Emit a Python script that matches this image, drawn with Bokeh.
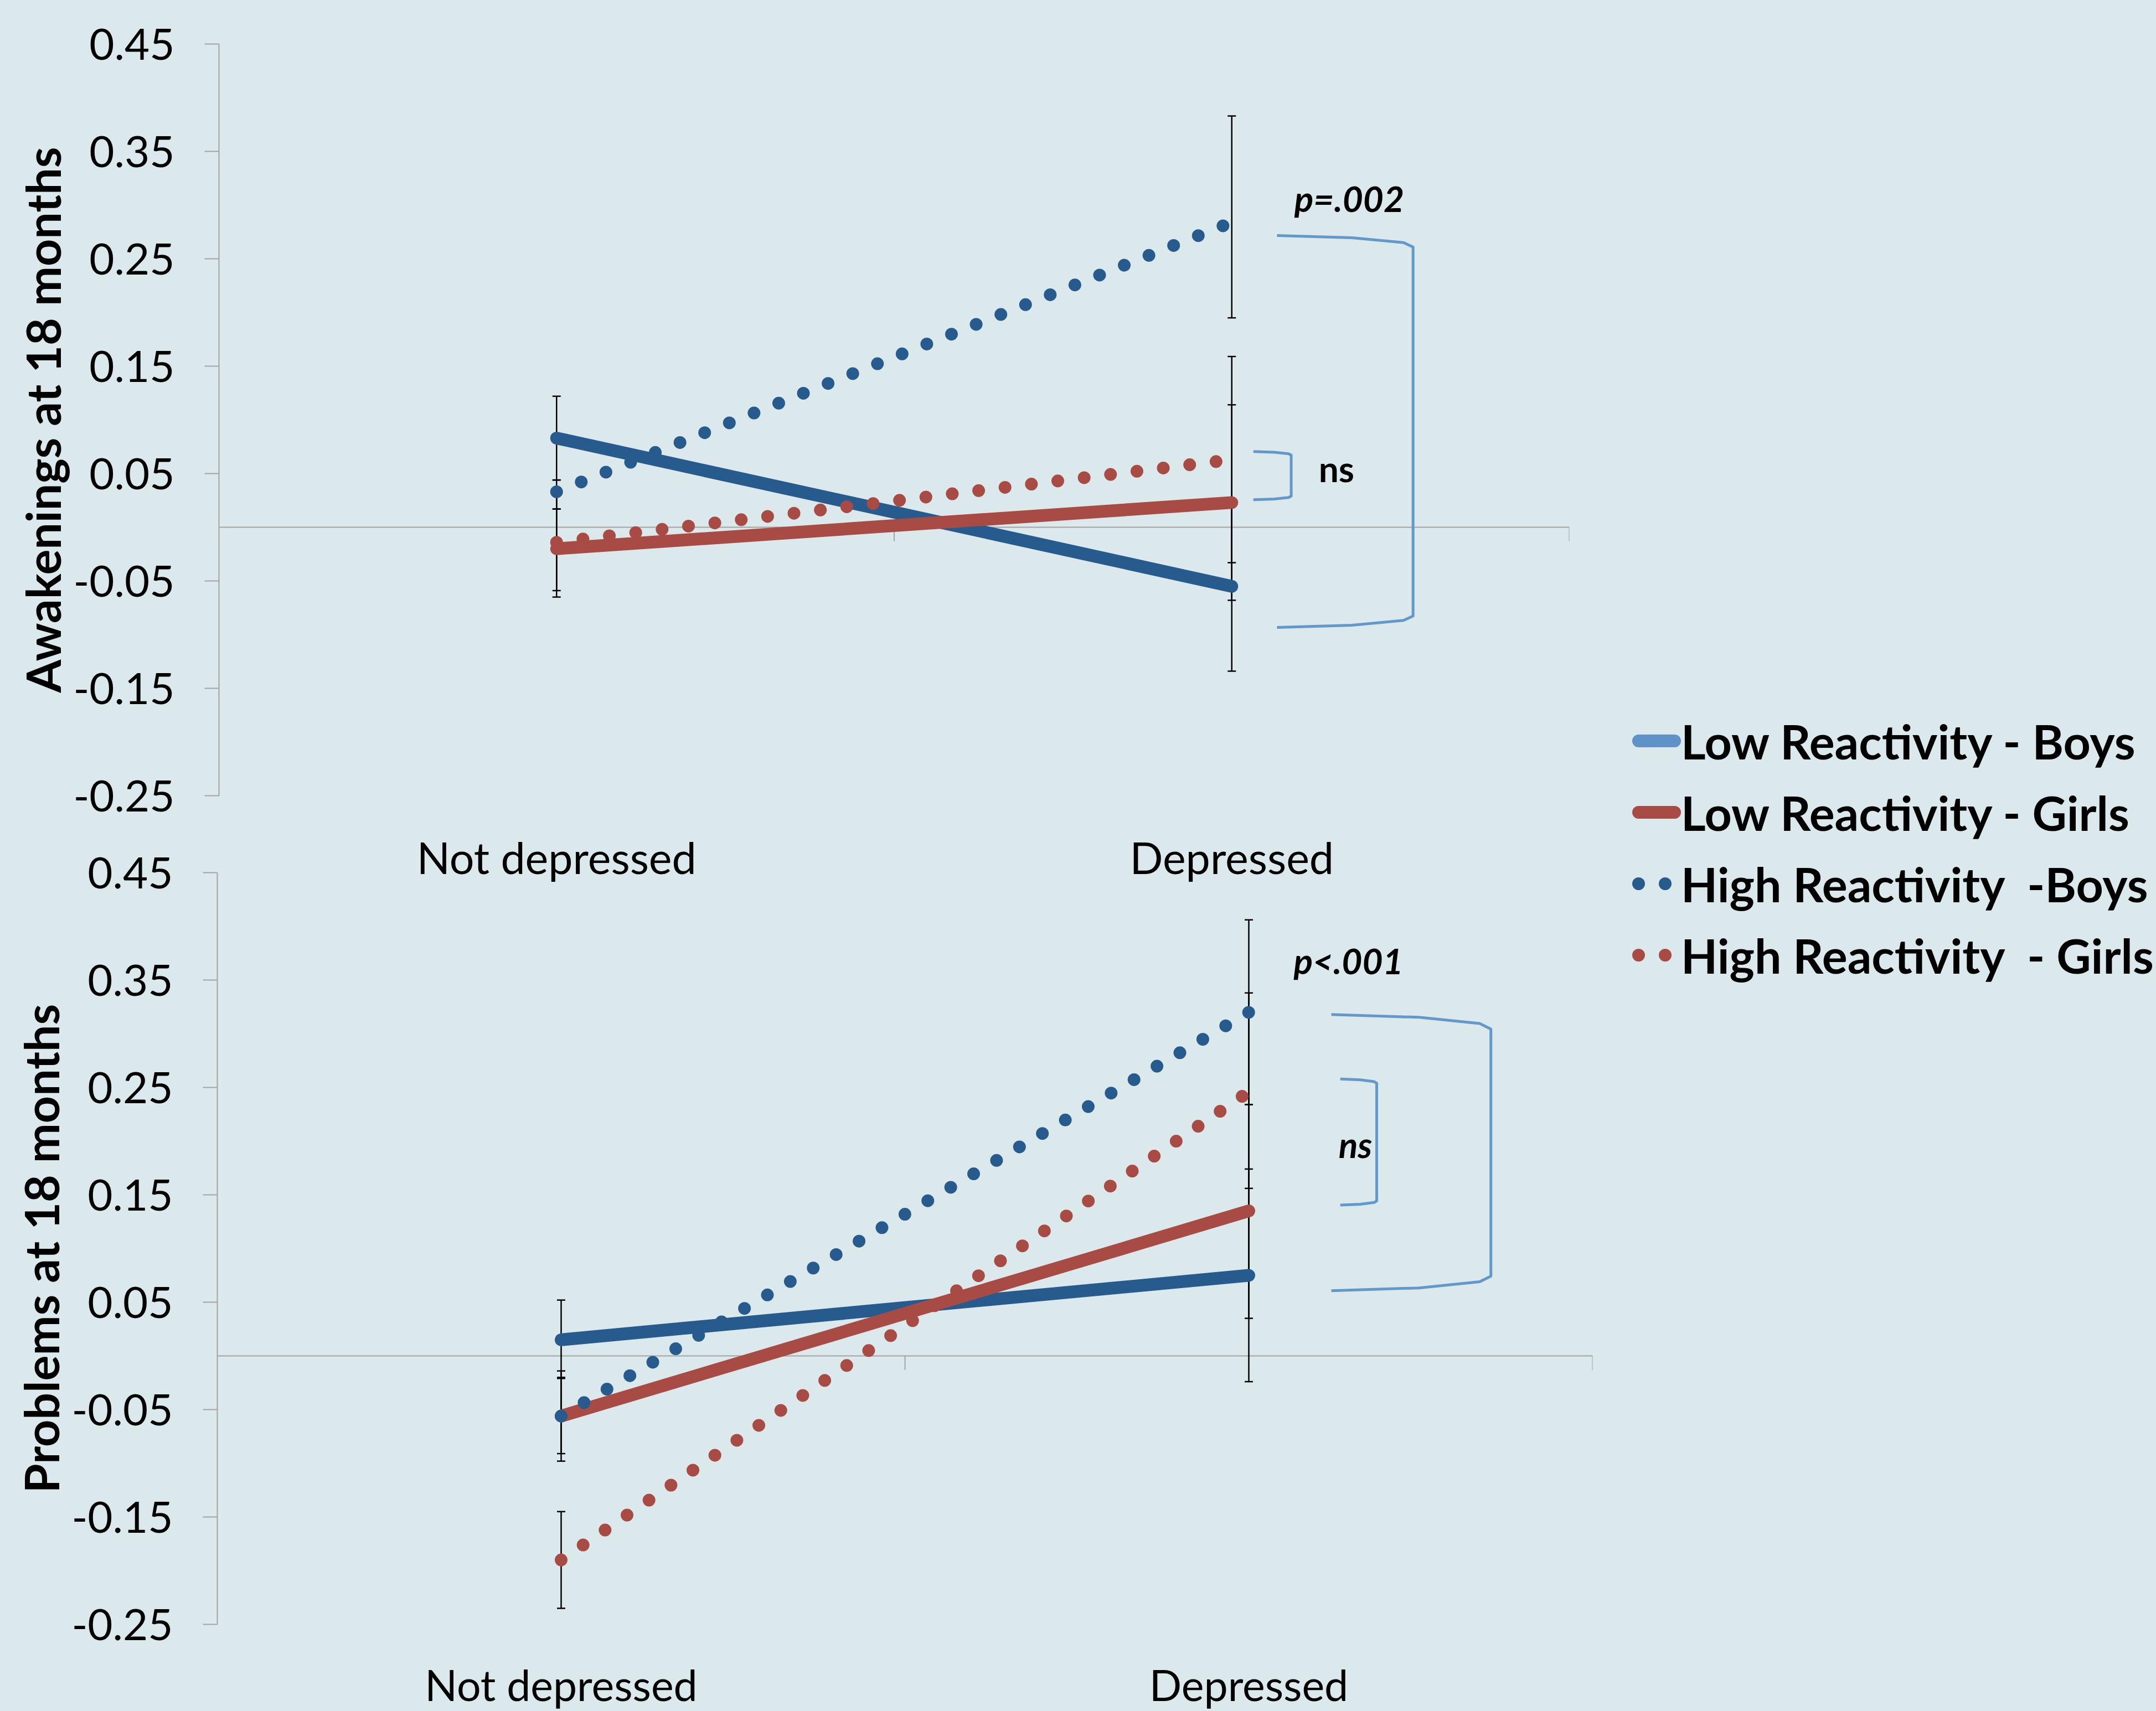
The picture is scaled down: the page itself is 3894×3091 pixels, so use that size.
from bokeh.plotting import figure
from bokeh.models import (Range1d, LinearAxis, FixedTicker, Span, Legend, LegendItem,
                          Whisker, ColumnDataSource, Label, PrintfTickFormatter, TeeHead)
from bokeh.layouts import row, column
from bokeh.embed import file_html
from bokeh.resources import INLINE

# ---------------- data ----------------
categories = ["Not depressed", "Depressed"]
y_ticks = [-0.25, -0.15, -0.05, 0.05, 0.15, 0.25, 0.35, 0.45]
series_names = ["Low Reactivity - Boys", "Low Reactivity - Girls",
                "High Reactivity  -Boys", "High Reactivity  - Girls"]

# Awakenings at 18 months
awake_low_boys = [0.083, -0.055]
awake_low_girls = [-0.020, 0.023]
awake_high_boys = [0.033, 0.284]
awake_high_girls = [-0.014, 0.063]
awake_low_boys_err = ([0.044, -0.134], [0.122, 0.024])
awake_low_girls_err = ([-0.059, -0.068], [0.017, 0.114])
awake_high_boys_err = ([0.017, 0.195], [0.044, 0.383])
awake_high_girls_err = ([-0.065, -0.033], [0.036, 0.159])

# Problems at 18 months
prob_low_boys = [0.015, 0.075]
prob_low_girls = [-0.056, 0.135]
prob_high_boys = [-0.056, 0.320]
prob_high_girls = [-0.190, 0.246]
prob_low_boys_err = ([-0.021, -0.024], [0.052, 0.174])
prob_low_girls_err = ([-0.098, 0.035], [-0.014, 0.234])
prob_high_boys_err = ([-0.091, 0.234], [-0.020, 0.406])
prob_high_girls_err = ([-0.235, 0.156], [-0.145, 0.338])

# significance annotations: (text, italic, x, y)
awake_tests = [("p=.002", True, 1.674, 0.306), ("ns", False, 1.655, 0.0545)]
prob_tests = [("p<.001", True, 1.645, 0.368), ("ns", True, 1.655, 0.197)]
# brackets: (x left, x right, y top, y bottom, arm droop)
awake_brackets = [(1.567, 1.7685, 0.2716, -0.0933, 0.0082),
                  (1.532, 1.588, 0.0705, 0.0256, 0.0026)]
prob_brackets = [(1.620, 1.852, 0.3179, 0.0607, 0.0104),
                 (1.633, 1.686, 0.2578, 0.1405, 0.0030)]

# ---------------- style ----------------
BG = "#DCE9EC"
DARK_BLUE = "#275B8E"
RED = "#A84B45"
LEGEND_BLUE = "#5F93C8"
BRACKET = "#6398CB"
AXIS_GRAY = "#A3A3A3"
FONT = "Lato"
styles = [(DARK_BLUE, None), (RED, None), (DARK_BLUE, "0 48"), (RED, "0 48")]
legend_colors = [LEGEND_BLUE, RED, DARK_BLUE, RED]
# legend samples: (dash pattern, dash offset) so the rounded ends stay inside the glyph box
legend_dash = [("65 1000", 1053), ("65 1000", 1053), ("0 48", 36), ("0 48", 36)]

xs = [i + 0.5 for i in range(len(categories))]
label_map = {x: c for x, c in zip(xs, categories)}

PAGE_W, PAGE_H = 3894, 3091
COL_W = 2900
TOP_H = 1490
BOT_H = PAGE_H - TOP_H
TOP_FRAME_L, TOP_FRAME_R = 395, 2834
BOT_FRAME_L, BOT_FRAME_R = 392, 2876


def bracket_path(xl, xr, yt, yb, d):
    w = xr - xl
    bx = [xl, xl + 0.55 * w, xr - 0.07 * w, xr, xr, xr - 0.07 * w, xl + 0.55 * w, xl]
    by = [yt, yt - 0.25 * d, yt - 0.8 * d, yt - 1.3 * d, yb + 1.3 * d, yb + 0.8 * d, yb + 0.25 * d, yb]
    return bx, by


def make_panel(height, borders, series, errs, ylabel, tests, brackets, show_x):
    bt, bb, bl, br = borders
    p = figure(width=COL_W, height=height, x_range=Range1d(0, len(categories)),
               y_range=Range1d(-0.25, 0.45),
               x_axis_location="below" if show_x else None, y_axis_location="left",
               toolbar_location=None, output_backend="svg", frame_align=False,
               min_border_top=bt, min_border_bottom=bb, min_border_left=bl, min_border_right=br,
               background_fill_color=BG, border_fill_color=BG, outline_line_color=None)
    p.grid.grid_line_color = None

    # zero axis line with category tick marks
    p.add_layout(Span(location=0, dimension="width", line_color=AXIS_GRAY, line_width=2, level="underlay"))
    p.segment(x0=[1, 2], y0=[0, 0], x1=[1, 2], y1=[-0.013, -0.013], line_color=AXIS_GRAY, line_width=2)

    # error bars
    for lo, hi in errs:
        src = ColumnDataSource(dict(base=xs, lower=lo, upper=hi))
        p.add_layout(Whisker(source=src, base="base", lower="lower", upper="upper",
                             line_color="black", line_width=2.5, level="underlay",
                             upper_head=TeeHead(size=15, line_color="black", line_width=2.5),
                             lower_head=TeeHead(size=15, line_color="black", line_width=2.5)))

    for vals, (color, dash) in zip(series, styles):
        kw = dict(line_color=color, line_width=23, line_cap="round")
        if dash:
            kw["line_dash"] = dash
        p.line(x=xs, y=vals, **kw)

    for (xl, xr, yt, yb, d) in brackets:
        bx, by = bracket_path(xl, xr, yt, yb, d)
        p.line(x=bx, y=by, line_color=BRACKET, line_width=5, line_join="round")

    for text, italic, tx, ty in tests:
        p.add_layout(Label(x=tx, y=ty, text=text, text_font=FONT,
                           text_font_style="bold italic" if italic else "bold",
                           text_font_size="64px", text_align="center",
                           text_baseline="alphabetic", text_color="black"))

    ax = p.yaxis[0]
    ax.ticker = FixedTicker(ticks=y_ticks)
    ax.formatter = PrintfTickFormatter(format="%.2f")
    ax.major_label_text_font = FONT
    ax.major_label_text_font_size = "78px"
    ax.major_label_text_color = "black"
    ax.major_label_standoff = 54
    ax.axis_line_color = AXIS_GRAY
    ax.axis_line_width = 2
    ax.major_tick_line_color = AXIS_GRAY
    ax.major_tick_line_width = 2
    ax.major_tick_out = 26
    ax.major_tick_in = 0
    ax.minor_tick_line_color = None
    ax.axis_label = ylabel
    ax.axis_label_text_font = FONT
    ax.axis_label_text_font_style = "bold"
    ax.axis_label_text_font_size = "86px"
    ax.axis_label_text_color = "black"
    ax.axis_label_standoff = 1
    return p


def style_cat_axis(ax, standoff, size):
    ax.ticker = FixedTicker(ticks=xs)
    ax.major_label_overrides = label_map
    ax.major_label_text_font = FONT
    ax.major_label_text_font_size = size
    ax.major_label_text_color = "black"
    ax.major_label_standoff = standoff
    ax.axis_line_color = None
    ax.major_tick_line_color = None
    ax.minor_tick_line_color = None
    ax.major_tick_out = 0
    ax.major_tick_in = 0


top = make_panel(TOP_H, (79, TOP_H - 79 - 1358, TOP_FRAME_L, COL_W - TOP_FRAME_R),
                 [awake_low_boys, awake_low_girls, awake_high_boys, awake_high_girls],
                 [awake_low_boys_err, awake_low_girls_err, awake_high_boys_err, awake_high_girls_err],
                 "Awakenings at 18 months", awake_tests, awake_brackets, False)

bot = make_panel(BOT_H, (1576 - TOP_H, BOT_H - (1576 - TOP_H) - 1359, BOT_FRAME_L, COL_W - BOT_FRAME_R),
                 [prob_low_boys, prob_low_girls, prob_high_boys, prob_high_girls],
                 [prob_low_boys_err, prob_low_girls_err, prob_high_boys_err, prob_high_girls_err],
                 "Problems at 18 months", prob_tests, prob_brackets, True)
style_cat_axis(bot.xaxis[0], 62, "77px")

# category labels of the upper chart, drawn on the lower figure's top edge with the upper chart's x scale
unit_top = (TOP_FRAME_R - TOP_FRAME_L) / len(categories)
s = (BOT_FRAME_L - TOP_FRAME_L) / unit_top
e = s + (BOT_FRAME_R - BOT_FRAME_L) / unit_top
bot.extra_x_ranges = {"upper": Range1d(s, e)}
upper_ax = LinearAxis(x_range_name="upper")
style_cat_axis(upper_ax, -19, "79px")
bot.add_layout(upper_ax, "above")

# legend panel
nan = float("nan")
lf = figure(width=PAGE_W - COL_W, height=PAGE_H, x_range=Range1d(0, 1), y_range=Range1d(0, 1),
            x_axis_location=None, y_axis_location=None, toolbar_location=None,
            output_backend="svg", min_border=0, frame_align=False,
            background_fill_color=BG, border_fill_color=BG, outline_line_color=None)
lf.grid.grid_line_color = None
items = []
for name, lc, (dash, offset) in zip(series_names, legend_colors, legend_dash):
    r = lf.line(x=[nan, nan], y=[nan, nan], line_color=lc, line_width=23, line_cap="round",
                line_dash=dash, line_dash_offset=offset)
    items.append(LegendItem(label=name, renderers=[r]))
legend = Legend(items=items, location=(2947 - COL_W, 1311), glyph_width=89, glyph_height=110,
                label_height=110, spacing=19, padding=0, margin=0, label_standoff=-8,
                border_line_color=None, background_fill_alpha=0,
                label_text_font=FONT, label_text_font_style="bold",
                label_text_font_size="86px", label_text_color="black")
lf.add_layout(legend)

layout = row(column(top, bot, styles={"background-color": BG}), lf, styles={"background-color": BG})
open("out.html", "w").write(file_html(layout, INLINE))
